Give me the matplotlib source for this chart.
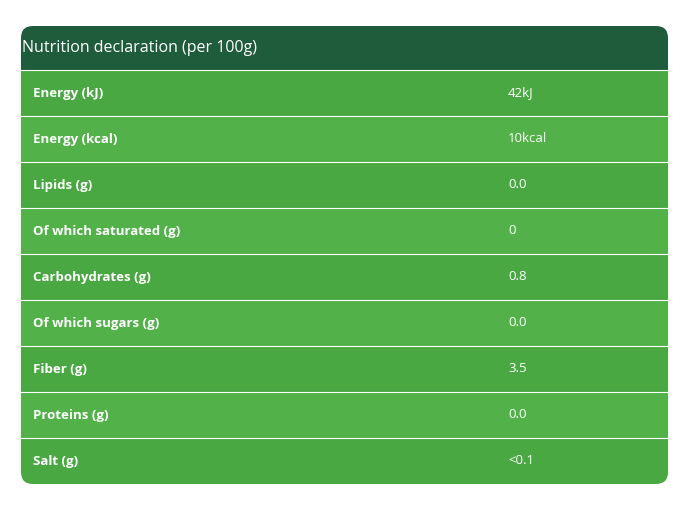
import matplotlib.pyplot as plt
from matplotlib.patches import FancyBboxPatch, Rectangle

title = 'Nutrition declaration (per 100g)'
labels = ['Energy (kJ)', 'Energy (kcal)', 'Lipids (g)', 'Of which saturated (g)',
          'Carbohydrates (g)', 'Of which sugars (g)', 'Fiber (g)', 'Proteins (g)', 'Salt (g)']
values = ['42kJ', '10kcal', '0.0', '0', '0.8', '0.0', '3.5', '0.0', '<0.1']

HEADER_color = '#1f5c3b'
ROW_colors = ['#4aa843', '#52b149']

plt.rcParams['font.family'] = ['Open Sans', 'DejaVu Sans']
fig = plt.figure(figsize=(6.94, 5.19), dpi=100)
ax = fig.add_axes([0, 0, 1, 1])
ax.set_xlim(0, 694)
ax.set_ylim(519, 0)
ax.axis('off')

x0, x1, y0, hh, rh = 21, 668, 26, 44, 46
y1 = y0 + hh + rh * len(labels)
clip = FancyBboxPatch((x0, y0), x1 - x0, y1 - y0, boxstyle='round,pad=0,rounding_size=12',
                      facecolor='none', edgecolor='none')
ax.add_patch(clip)

hdr = Rectangle((x0, y0), x1 - x0, hh, facecolor=HEADER_color, edgecolor='none')
ax.add_patch(hdr)
hdr.set_clip_path(clip)
ax.text(x0 + 1, y0 + hh / 2, title, color='white', fontsize=11.5, va='center', ha='left')

for i, (lab, val) in enumerate(zip(labels, values)):
    top = y0 + hh + i * rh
    r = Rectangle((x0, top), x1 - x0, rh, facecolor=ROW_colors[i % 2], edgecolor='none')
    ax.add_patch(r)
    r.set_clip_path(clip)
    ax.plot([x0, x1], [top, top], color='white', lw=0.8)
    ax.text(33, top + rh / 2, lab, color='white', fontsize=9.5, fontweight='bold', va='center')
    ax.text(508, top + rh / 2, val, color='white', fontsize=9.5, va='center')

fig.savefig('out.png', dpi=100, facecolor='white')
